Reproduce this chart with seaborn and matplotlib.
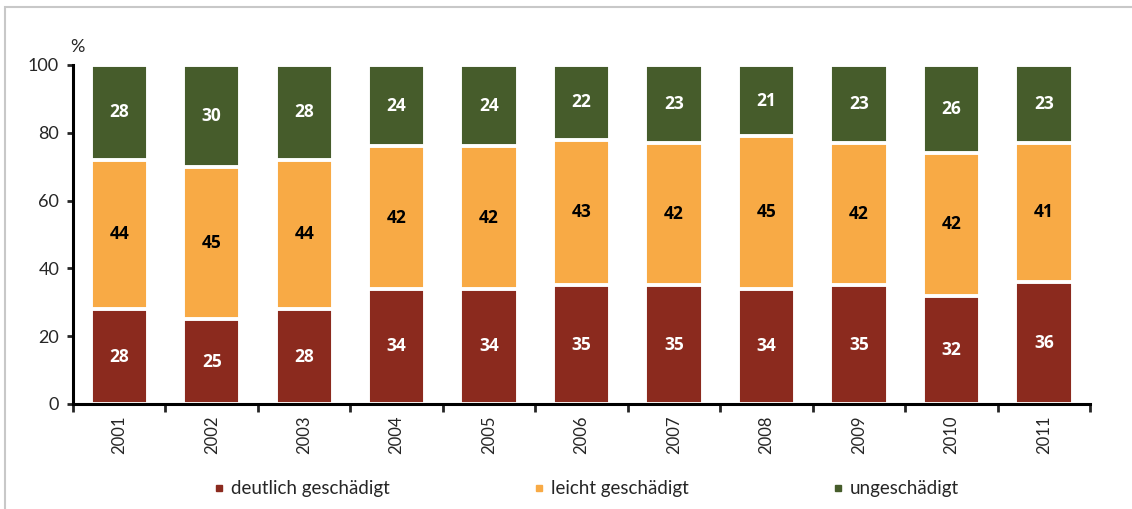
import numpy as np
import pandas as pd
import seaborn as sns
import matplotlib.pyplot as plt
from matplotlib.lines import Line2D
from matplotlib.patches import Rectangle

years = ['2001', '2002', '2003', '2004', '2005', '2006', '2007', '2008', '2009', '2010', '2011']
deutlich = [28, 25, 28, 34, 34, 35, 35, 34, 35, 32, 36]
leicht = [44, 45, 44, 42, 42, 43, 42, 45, 42, 42, 41]
ungeschaedigt = [28, 30, 28, 24, 24, 22, 23, 21, 23, 26, 23]
series_names = ['deutlich geschädigt', 'leicht geschädigt', 'ungeschädigt']
colors = ['#8B2A1E', '#F8AA45', '#465C2B']
label_colors = ['white', 'black', 'white']

sns.set_style('white')
plt.rcParams['font.family'] = ['Lato', 'DejaVu Sans']

df = pd.DataFrame({'year': years, 'd': deutlich, 'l': leicht, 'u': ungeschaedigt})
df['dl'] = df['d'] + df['l']
df['dlu'] = df['dl'] + df['u']

fig = plt.figure(figsize=(11.32, 5.09), dpi=100)
ax = fig.add_axes([0.0645, 0.2063, 0.8985, 0.666])

# stacked by overdrawing cumulative totals
for col, c in zip(['dlu', 'dl', 'd'], colors[::-1]):
    sns.barplot(data=df, x='year', y=col, color=c, width=0.62, saturation=1,
                edgecolor='white', linewidth=2.8, ax=ax)

# segment labels
bottoms = np.zeros(len(years))
for vals, lc in zip([deutlich, leicht, ungeschaedigt], label_colors):
    for i, v in enumerate(vals):
        ax.text(i, bottoms[i] + v / 2, str(v), ha='center', va='center',
                color=lc, fontsize=12.5, fontweight='bold',
                family=['Open Sans', 'DejaVu Sans'])
    bottoms += np.array(vals)

ax.set_xlim(-0.5, len(years) - 0.5)
ax.set_ylim(0, 100)
ax.set_yticks([0, 20, 40, 60, 80, 100])
ax.set_xlabel('')
ax.set_ylabel('')

ax.set_xticks(np.arange(-0.5, len(years)), labels=[])
ax.set_xticks(np.arange(len(years)), labels=years, minor=True)
ax.tick_params(axis='x', which='major', direction='out', length=6, width=2, bottom=True)
ax.tick_params(axis='x', which='minor', length=0, labelsize=12, labelrotation=90, pad=8)
ax.tick_params(axis='y', direction='out', length=4, width=2, left=True, labelsize=13, pad=6)

sns.despine(ax=ax)
for s in ['left', 'bottom']:
    ax.spines[s].set_linewidth(2.2)
    ax.spines[s].set_color('black')

ax.annotate('%', xy=(0, 1), xycoords='axes fraction', xytext=(3, 7),
            textcoords='offset points', ha='center', va='bottom', fontsize=13)

handles = [Line2D([], [], marker='s', linestyle='none', markersize=5,
                  markerfacecolor=c, markeredgecolor=c) for c in colors]
fig.legend(handles, series_names, loc='center', bbox_to_anchor=(0.517, 0.04),
           ncol=3, frameon=False, fontsize=13.5, handletextpad=0.2,
           columnspacing=7.6, handlelength=0.8)

# light frame around the chart
fig.patches.append(Rectangle((5 / 1132, -0.05), 1.2, 1 - 7 / 509 + 0.05,
                             transform=fig.transFigure, fill=False,
                             edgecolor='#C8C8C8', linewidth=1.5))

fig.savefig('out.png', dpi=100)
